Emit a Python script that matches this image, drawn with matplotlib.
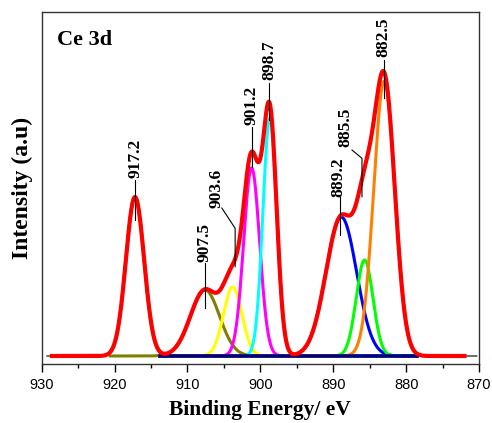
import matplotlib
matplotlib.use('Agg')
import matplotlib.pyplot as plt
import numpy as np

# fitted Gaussian components (binding energy, height, sigma)
centers = [917.2, 907.6, 903.8, 901.2, 898.7, 888.9, 885.7, 883.0]
heights = [159, 66, 69, 188, 238, 139, 96, 275]
sigmas = [1.25, 2.0, 1.27, 1.1, 0.95, 2.1, 1.15, 1.45]
colors = ['#808000', '#808000', '#ffff00', '#ff00ff', '#00ffff', '#0000ff', '#00ff00', '#ff8000']
# x range over which each component is drawn
ranges = [(920.6, 913.8), (920.6, 878.5)] + [(913.8, 878.5)] * 6

# peak labels: text, text x, text bottom y, leader line x and y points
lab_text = ['917.2', '907.5', '903.6', '901.2', '898.7', '889.2', '885.5', '882.5']
lab_x = [917.2, 907.6, 905.97, 901.17, 898.75, 889.27, 888.35, 883.1]
lab_y = [178, 94, 148, 231, 276, 159, 209, 299]
lead_x = [[917.2, 917.2], [907.6, 907.6], [905.29, 903.46, 903.46], [901.17, 901.17],
          [898.75, 898.75], [889.04, 889.04], [887.43, 886.06, 886.06], [883.1, 883.1]]
lead_y = [[176, 136], [93, 48], [148, 127.7, 89.3], [229, 189],
          [273, 236], [159, 121], [206, 197.7, 159.3], [296, 258]]


def gauss(x, c, h, s):
    return h*np.exp(-(x-c)**2/(2*s*s))


def envelope(x):
    y = np.zeros_like(x)
    for c, h, s in zip(centers, heights, sigmas):
        y = y + gauss(x, c, h, s)
    return y


serif = 'Liberation Serif'
fig = plt.figure(figsize=(4.92, 4.23), dpi=100)
ax = fig.add_axes([0.0848, 0.1395, 0.8888, 0.8321])

# measured data (under the fit)
xd = np.linspace(929.3, 870.3, 1200)
ax.plot(xd, envelope(xd), color='black', lw=0.8, zorder=1)

for c, h, s, col, r in zip(centers, heights, sigmas, colors, ranges):
    xc = np.linspace(r[0], r[1], 600)
    ax.plot(xc, gauss(xc, c, h, s), color=col, lw=2.2, zorder=2)

# baseline
ax.plot([913.8, 878.5], [0, 0], color='#000080', lw=2.6, zorder=3)

# envelope of the fit
xf = np.linspace(928.6, 872.0, 1200)
ax.plot(xf, envelope(xf), color='#ff0000', lw=3.0, zorder=4)

for t, x, y, lx, ly in zip(lab_text, lab_x, lab_y, lead_x, lead_y):
    ax.text(x, y, t, rotation=90, ha='center', va='bottom', fontsize=12.5,
            fontweight='bold', family=serif, zorder=6)
    ax.plot(lx, ly, color='black', lw=0.8, zorder=5)

ax.text(0.035, 0.95, 'Ce 3d', transform=ax.transAxes, ha='left', va='top',
        fontsize=16, fontweight='bold', family=serif)

ax.set_xlim(930, 870)
ax.set_ylim(-8, 344)
ax.set_xticks(np.arange(930, 869, -10))
ax.set_xticks(np.arange(925, 870, -10), minor=True)
ax.set_yticks([])
ax.tick_params(axis='x', which='major', direction='out', length=6, width=1,
               labelsize=10.5, pad=4)
ax.tick_params(axis='x', which='minor', direction='out', length=3, width=1)
for lab in ax.get_xticklabels():
    lab.set_family('Liberation Sans')
for sp in ax.spines.values():
    sp.set_linewidth(1.0)
    sp.set_color('#333333')

ax.set_xlabel('Binding Energy/ eV', fontsize=15.5, fontweight='bold', family=serif, labelpad=6)
ax.set_ylabel('Intensity (a.u)', fontsize=17, fontweight='bold', family=serif, labelpad=6)

plt.savefig('out.png', dpi=100)
